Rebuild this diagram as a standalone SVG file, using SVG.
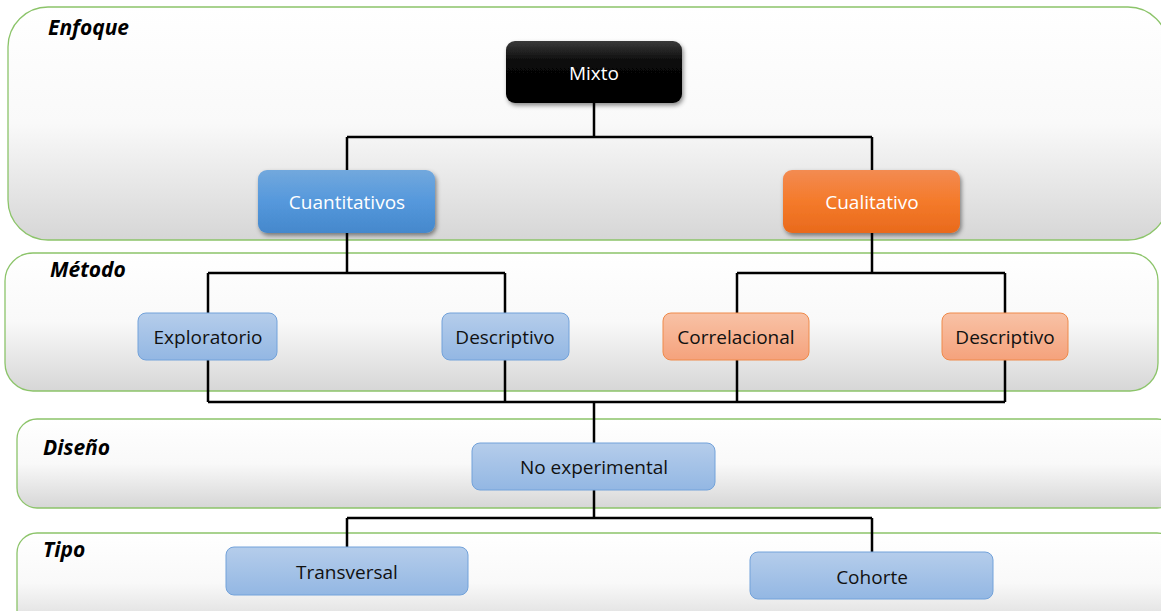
<svg xmlns="http://www.w3.org/2000/svg" width="1161" height="611" viewBox="0 0 1161 611">
<defs>
<linearGradient id="band" x1="0" y1="0" x2="0" y2="1">
<stop offset="0" stop-color="#ffffff"/><stop offset="0.5" stop-color="#f9f9f9"/><stop offset="1" stop-color="#d6d6d6"/>
</linearGradient>
<linearGradient id="black" x1="0" y1="0" x2="0" y2="1">
<stop offset="0" stop-color="#3a3a3a"/><stop offset="0.35" stop-color="#080808"/><stop offset="1" stop-color="#000000"/>
</linearGradient>
<linearGradient id="blue" x1="0" y1="0" x2="0" y2="1">
<stop offset="0" stop-color="#72a8dd"/><stop offset="0.5" stop-color="#5598dc"/><stop offset="1" stop-color="#4588cc"/>
</linearGradient>
<linearGradient id="orange" x1="0" y1="0" x2="0" y2="1">
<stop offset="0" stop-color="#f38b52"/><stop offset="0.5" stop-color="#f47a2a"/><stop offset="1" stop-color="#e96a1c"/>
</linearGradient>
<linearGradient id="lblue" x1="0" y1="0" x2="0" y2="1">
<stop offset="0" stop-color="#b5cdeb"/><stop offset="1" stop-color="#93b7e3"/>
</linearGradient>
<linearGradient id="lorange" x1="0" y1="0" x2="0" y2="1">
<stop offset="0" stop-color="#f8c2a6"/><stop offset="1" stop-color="#f5a27c"/>
</linearGradient>
<filter id="sh" x="-10%" y="-10%" width="125%" height="135%">
<feDropShadow dx="1.5" dy="2.5" stdDeviation="2" flood-color="#000" flood-opacity="0.45"/>
</filter>
</defs>
<style>
.band{fill:url(#band);stroke:#8cc46a;stroke-width:1.3}
.bl{font-family:"Open Sans","Liberation Sans",sans-serif;font-weight:bold;font-style:italic;font-size:21px;fill:#000}
.t{font-family:"Open Sans","Liberation Sans",sans-serif;font-size:19px;text-anchor:middle;dominant-baseline:central}
.w{fill:#fff}
.k{fill:#111}
.conn{fill:none;stroke:#000;stroke-width:2.5}
</style>
<g id="bands">
<g id="band-enfoque"><rect class="band" x="8" y="7" width="1160" height="233" rx="40"/><text class="bl" x="48" y="35">Enfoque</text></g>
<g id="band-metodo"><rect class="band" x="5" y="253" width="1153" height="138" rx="28"/><text class="bl" x="50" y="277">Método</text></g>
<g id="band-diseno"><rect class="band" x="17" y="419" width="1160" height="89" rx="20"/><text class="bl" x="43" y="455">Diseño</text></g>
<g id="band-tipo"><rect class="band" x="17" y="533" width="1160" height="100" rx="20"/><text class="bl" x="43" y="557">Tipo</text></g>
</g>
<g id="connectors">
<path class="conn" d="M594 103V137M347 137H872M347 137V170M872 137V170"/>
<path class="conn" d="M347 233V273M208 273H505M208 273V313M505 273V313"/>
<path class="conn" d="M872 233V273M737 273H1005M737 273V313M1005 273V313"/>
<path class="conn" d="M208 360V402M505 360V402M737 360V402M1005 360V402M208 402H1005M594 402V443"/>
<path class="conn" d="M594 490V518M347 518H872M347 518V547M872 518V552"/>
</g>
<g id="node-mixto"><rect x="506" y="41" width="176" height="62" rx="9" fill="url(#black)" filter="url(#sh)"/><text class="t w" x="594" y="73">Mixto</text></g>
<g id="node-cuantitativos"><rect x="258" y="170" width="177" height="63" rx="9" fill="url(#blue)" filter="url(#sh)"/><text class="t w" x="347" y="202">Cuantitativos</text></g>
<g id="node-cualitativo"><rect x="783" y="170" width="177" height="63" rx="9" fill="url(#orange)" filter="url(#sh)"/><text class="t w" x="872" y="202">Cualitativo</text></g>
<g id="node-exploratorio"><rect x="138" y="313" width="139" height="47" rx="8" fill="url(#lblue)" stroke="#72a2da" stroke-width="1"/><text class="t k" x="208" y="337">Exploratorio</text></g>
<g id="node-descriptivo1"><rect x="442" y="313" width="127" height="47" rx="8" fill="url(#lblue)" stroke="#72a2da" stroke-width="1"/><text class="t k" x="505" y="337">Descriptivo</text></g>
<g id="node-correlacional"><rect x="663" y="313" width="146" height="47" rx="8" fill="url(#lorange)" stroke="#ef8a4a" stroke-width="1"/><text class="t k" x="736" y="337">Correlacional</text></g>
<g id="node-descriptivo2"><rect x="942" y="313" width="126" height="47" rx="8" fill="url(#lorange)" stroke="#ef8a4a" stroke-width="1"/><text class="t k" x="1005" y="337">Descriptivo</text></g>
<g id="node-noexperimental"><rect x="472" y="443" width="243" height="47" rx="8" fill="url(#lblue)" stroke="#72a2da" stroke-width="1"/><text class="t k" x="594" y="467">No experimental</text></g>
<g id="node-transversal"><rect x="226" y="547" width="242" height="48" rx="8" fill="url(#lblue)" stroke="#72a2da" stroke-width="1"/><text class="t k" x="347" y="572">Transversal</text></g>
<g id="node-cohorte"><rect x="750" y="552" width="243" height="47" rx="8" fill="url(#lblue)" stroke="#72a2da" stroke-width="1"/><text class="t k" x="872" y="577">Cohorte</text></g>
</svg>
